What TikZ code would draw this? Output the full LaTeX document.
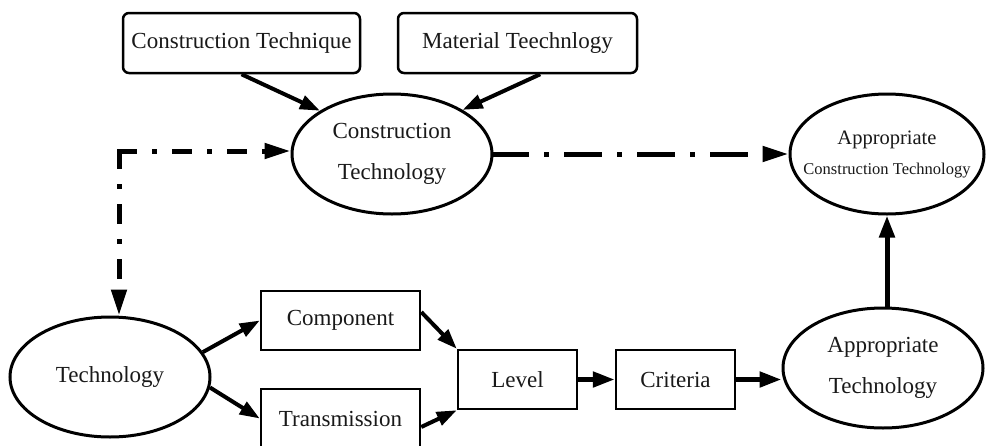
\documentclass[tikz,border=0pt]{standalone}
\usepackage{fontspec}
\setmainfont{Liberation Serif}
\usetikzlibrary{arrows.meta,shapes.geometric}
\tikzset{
  rbox/.style={draw, line width=2.5pt, rounded corners=6pt, minimum width=237pt, minimum height=60pt, inner sep=0pt},
  sbox/.style={draw, line width=2.5pt, minimum height=59pt, inner sep=0pt},
  ell/.style={draw, ellipse, line width=3pt, minimum width=200pt, minimum height=120pt, inner sep=0pt, align=center},
  arr/.style={line width=4pt, -{Triangle[length=20pt,width=14pt]}},
  ddA/.style={line width=5pt, line cap=rect, dash pattern=on 15pt off 20pt on 0.01pt off 20pt, -{Triangle[length=26pt,width=15pt]}},
  ddB/.style={line width=5pt, line cap=rect, dash pattern=on 33pt off 20pt on 0.01pt off 20pt, -{Triangle[length=26pt,width=15pt]}},
  txt/.style={font=\fontsize{23}{41}\selectfont, text=black!90}
}
\begin{document}
\begin{tikzpicture}[x=1pt, y=-1pt]
\useasboundingbox (0,0) rectangle (986,445);
\clip (0,0) rectangle (986,445);
\fill[white] (0,0) rectangle (986,445);

% top boxes
\node[rbox, txt] (ctq) at (241.5,43) {Construction Technique};
\node[rbox, txt, minimum width=239pt] (mt) at (517.5,43) {Material Teechnlogy};

% ellipses
\node[ell, txt] (ct) at (392,154) {Construction\\Technology};
\node[ell, minimum width=194pt, font=\fontsize{20.5}{30}\selectfont, text=black!90] (act) at (887,154)
  {Appropriate\\\makebox[0pt]{\fontsize{16.5}{16}\selectfont Construction Technology}};
\node[ell, txt] (tech) at (110,377) {Technology};
\node[ell, txt] (at) at (883,368) {Appropriate\\Technology};

% bottom boxes
\node[sbox, txt, minimum width=159pt] (comp) at (340.5,320.5) {Component};
\node[sbox, txt, minimum width=159pt] (trans) at (340.5,418.5) {Transmission};
\node[sbox, txt, minimum width=119pt] (level) at (517.5,379.5) {Level};
\node[sbox, txt, minimum width=119pt] (crit) at (675.5,379.5) {Criteria};

% solid arrows
\draw[arr] (ctq.south) -- (ct.149);
\draw[arr] (mt.-54) -- (ct.32);
\draw[arr] (tech.15) -- (comp.west);
\draw[arr] (tech.-6) -- (trans.west);
\draw[arr] (comp.6) -- (level.north west);
\draw[arr] (trans.-6) -- (level.south west);
\draw[arr, line width=5pt, -{Triangle[length=22pt,width=15pt]}] (level.east) -- (crit.west);
\draw[arr, line width=5pt, -{Triangle[length=22pt,width=15pt]}] (crit.east) -- (crit.east -| at.west);
\draw[arr, line width=5pt, -{Triangle[length=22pt,width=15pt]}] (at.north -| act.south) -- (act.south);

% dash-dot connectors
\coordinate (corner) at (119,151);
\draw[ddA] (corner) -- (ct.west |- corner);
\draw[ddA] (corner) -- (corner |- tech.north);
\draw[ddB] (ct.east) -- (act.west);
\end{tikzpicture}
\end{document}
